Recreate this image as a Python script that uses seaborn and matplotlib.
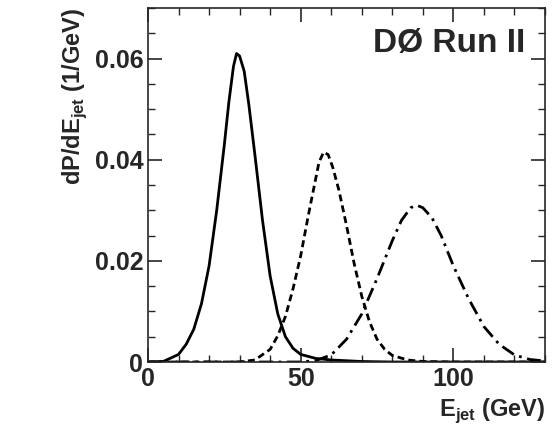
import seaborn as sns
import matplotlib.pyplot as plt
import pandas as pd
import matplotlib.ticker as mt

# values
x_solid = [0, 5, 10, 12.5, 15, 17.5, 20, 22.5, 25, 26.5, 28, 29, 30, 31.5, 33, 35, 37.5, 40, 42.5, 45, 47.5, 50, 55, 60, 70, 80, 130]
y_solid = [0, 0.0001, 0.0015, 0.0035, 0.0065, 0.0115, 0.019, 0.030, 0.043, 0.0515, 0.0585, 0.061, 0.0605, 0.0575,
           0.051, 0.041, 0.028, 0.017, 0.0095, 0.005, 0.0027, 0.0015, 0.0007, 0.0004, 0.0001, 0, 0]
x_dash = [0, 30, 35, 40, 42.5, 45, 47.5, 50, 52.5, 54.5, 56, 57.5, 59, 60.5, 62.5, 65, 67.5, 70, 72.5, 75, 77.5, 80, 85, 90, 100, 130]
y_dash = [0, 0, 0.0004, 0.0025, 0.0052, 0.009, 0.0145, 0.021, 0.029, 0.035, 0.0395, 0.0415, 0.041, 0.0385, 0.034,
          0.027, 0.0195, 0.013, 0.008, 0.0045, 0.0025, 0.0013, 0.0004, 0.0001, 0, 0]
x_dd = [0, 50, 55, 60, 65, 70, 75, 80, 83, 86, 88, 90, 93, 96, 100, 105, 110, 115, 120, 125, 130]
y_dd = [0, 0, 0.0003, 0.0014, 0.0045, 0.0095, 0.0165, 0.024, 0.028, 0.0305, 0.031, 0.0305, 0.0285, 0.025, 0.019,
        0.0125, 0.007, 0.0035, 0.0014, 0.0005, 0.0002]

sns.set_style("ticks")
plt.rcParams["font.family"] = ["Liberation Sans", "DejaVu Sans"]
plt.rcParams["font.weight"] = "bold"
plt.rcParams["mathtext.fontset"] = "custom"
plt.rcParams["mathtext.bf"] = "Liberation Sans:bold"
plt.rcParams["mathtext.rm"] = "Liberation Sans:bold"

fig = plt.figure(figsize=(5.56, 4.34), dpi=100)
ax = fig.add_axes([148 / 556, 1 - 362 / 434, 397 / 556, 354 / 434])

for xs, ys, ls in [(x_solid, y_solid, "-"), (x_dash, y_dash, (0, (2.5, 1.5))), (x_dd, y_dd, (0, (5, 2, 1, 2)))]:
    sns.lineplot(data=pd.DataFrame({"x": xs, "y": ys}), x="x", y="y", ax=ax, color="black", lw=2, linestyle=ls)

ax.set_xlim(0, 130)
ax.set_ylim(0, 0.07)
ax.xaxis.set_major_locator(mt.FixedLocator([0, 50, 100]))
ax.xaxis.set_minor_locator(mt.MultipleLocator(10))
ax.yaxis.set_major_locator(mt.FixedLocator([0, 0.02, 0.04, 0.06]))
ax.yaxis.set_minor_locator(mt.MultipleLocator(0.005))
ax.yaxis.set_major_formatter(mt.FuncFormatter(lambda v, p: "0" if v == 0 else f"{v:.2f}"))
ax.tick_params(which="both", direction="in", top=True, right=True, labelsize=18)
ax.tick_params(which="major", length=10, width=1.2)
ax.tick_params(which="minor", length=5, width=1)
for s in ax.spines.values():
    s.set_linewidth(1.2)
ax.set_xlabel(r"E$_{\mathbf{jet}}$ (GeV)", fontsize=17, fontweight="bold", loc="right")
ax.set_ylabel(r"dP/dE$_{\mathbf{jet}}$ (1/GeV)", fontsize=17, fontweight="bold", loc="top")
ax.text(0.95, 0.9, "DØ Run II", transform=ax.transAxes, ha="right", va="center", fontsize=24, fontweight="bold")

fig.savefig("out.png", dpi=100)
